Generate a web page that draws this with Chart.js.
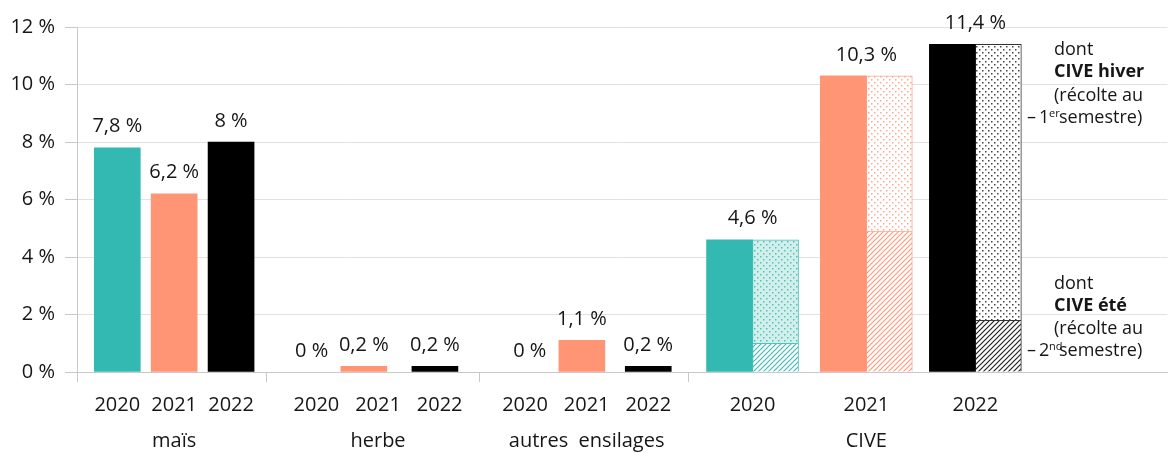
<!DOCTYPE html>
<html lang="fr">
<head>
<meta charset="utf-8">
<script src="https://cdn.jsdelivr.net/npm/chart.js@4.4.1/dist/chart.umd.min.js"></script>
<style>
  html, body { margin: 0; padding: 0; background: #fff; }
</style>
</head>
<body>
<canvas id="myChart" width="1170" height="453"></canvas>
<script>
const years = ['2020', '2021', '2022'];
const groups = ['maïs', 'herbe', 'autres  ensilages', 'CIVE'];
const mais = [7.8, 6.2, 8];
const herbe = [0, 0.2, 0.2];
const autres = [0, 1.1, 0.2];
const cive = [4.6, 10.3, 11.4];
const civeEte = [1.0, 4.9, 1.8];     // dont CIVE été (2nd semestre)
const civeHiver = [3.6, 5.4, 9.6];   // dont CIVE hiver (1er semestre)
const yTicks = [0, 2, 4, 6, 8, 10, 12];

const series = [mais, herbe, autres, cive];

// layout only: the x axis is cut in fine slots so the uneven spacing can be kept
const slotCount = 230;
const barSlots = [[8, 20, 32], [49, 60, 75], [95, 106, 120], [142, 166, 189]];
const labelSlots = [[8, 20, 32], [50, 63, 76], [94, 107, 120], [142, 166, 189]];
const sepSlots = [0, 40, 85, 129];

const yearColors = ['#33b9b2', '#ff9575', '#000000'];
const FONT = '"Open Sans", "Noto Sans", sans-serif';

function dots(bg, fg, size) {
    const c = document.createElement('canvas');
    c.width = 6; c.height = 6;
    const g = c.getContext('2d');
    g.fillStyle = bg;
    g.fillRect(0, 0, 6, 6);
    g.fillStyle = fg;
    g.fillRect(1, 1, size, size);
    g.fillRect(4, 4, size, size);
    return g.createPattern(c, 'repeat');
}

function hatch(fg) {
    const c = document.createElement('canvas');
    c.width = 5; c.height = 5;
    const g = c.getContext('2d');
    g.fillStyle = '#fff';
    g.fillRect(0, 0, 5, 5);
    g.strokeStyle = fg;
    g.lineWidth = 1.2;
    g.beginPath();
    g.moveTo(0, 5); g.lineTo(5, 0);
    g.moveTo(-1, 1); g.lineTo(1, -1);
    g.moveTo(4, 6); g.lineTo(6, 4);
    g.stroke();
    return g.createPattern(c, 'repeat');
}

const hiverFill = [dots('#d3efec', '#4fc2bb', 1.5), dots('#ffffff', '#ffa88e', 1.5), dots('#ffffff', '#444444', 1.5)];
const eteFill = [hatch('#3fbdb6'), hatch('#ff9a7c'), hatch('#222222')];
const detailBorder = ['#4fc2bb', '#ffa88e', '#333333'];

// build the slot arrays from the small arrays above
const labels = new Array(slotCount).fill('');
const solidData = new Array(slotCount).fill(null);
const solidColor = new Array(slotCount).fill('#000');
const eteData = new Array(slotCount).fill(null);
const hiverData = new Array(slotCount).fill(null);
const eteColor = new Array(slotCount).fill('#fff');
const hiverColor = new Array(slotCount).fill('#fff');
const detailColor = new Array(slotCount).fill('#000');

series.forEach(function(vals, g) {
    vals.forEach(function(v, i) {
        const s = barSlots[g][i];
        solidData[s] = v;
        solidColor[s] = v === 0 ? 'rgba(0,0,0,0)' : yearColors[i];
        labels[labelSlots[g][i]] = i === 1 ? [years[i], groups[g]] : [years[i]];
    });
});
civeEte.forEach(function(v, i) {
    const s = barSlots[3][i];
    eteData[s] = v;
    hiverData[s] = civeHiver[i];
    eteColor[s] = eteFill[i];
    hiverColor[s] = hiverFill[i];
    detailColor[s] = detailBorder[i];
});

function fmt(v) {
    return String(v).replace('.', ',') + ' %';
}

const valueLabels = {
    id: 'valueLabels',
    afterDatasetsDraw(chart) {
        const ctx = chart.ctx;
        const x = chart.scales.x, y = chart.scales.y;
        ctx.save();
        ctx.font = '20px ' + FONT;
        ctx.fillStyle = '#161616';
        ctx.textAlign = 'center';
        ctx.textBaseline = 'middle';
        series.forEach(function(vals, g) {
            vals.forEach(function(v, i) {
                ctx.fillText(fmt(v), x.getPixelForValue(barSlots[g][i]), y.getPixelForValue(v) - 21);
            });
        });
        ctx.restore();
    }
};

function drawNote(ctx, x, base, title, num, sup) {
    ctx.textAlign = 'left';
    ctx.textBaseline = 'alphabetic';
    ctx.fillStyle = '#161616';
    ctx.font = '18px ' + FONT;
    ctx.fillText('dont', x, base[0]);
    ctx.font = 'bold 18px ' + FONT;
    ctx.fillText(title, x, base[1]);
    ctx.font = '18px ' + FONT;
    ctx.fillText('(récolte au', x, base[2]);
    ctx.fillText('semestre)', x + 5, base[3]);
    ctx.fillText('–', x - 27, base[3]);
    ctx.fillText(num, x - 15, base[3]);
    ctx.font = '11px ' + FONT;
    ctx.fillText(sup, x - 5, base[3] - 6);
}

const notes = {
    id: 'notes',
    afterDraw(chart) {
        const ctx = chart.ctx;
        ctx.save();
        drawNote(ctx, 1054, [55, 77, 101, 123], 'CIVE hiver', '1', 'er');
        drawNote(ctx, 1054, [289, 311, 334, 356], 'CIVE été', '2', 'nd');
        ctx.restore();
    }
};

const config = {
    type: 'bar',
    data: {
        labels: labels,
        datasets: [{
            label: 'total',
            data: solidData,
            backgroundColor: solidColor,
            stack: 'total',
            borderWidth: 0
        }, {
            label: 'dont CIVE été',
            data: eteData,
            backgroundColor: eteColor,
            borderColor: detailColor,
            borderWidth: 1,
            stack: 'detail'
        }, {
            label: 'dont CIVE hiver',
            data: hiverData,
            backgroundColor: hiverColor,
            borderColor: detailColor,
            borderWidth: 1,
            stack: 'detail'
        }]
    },
    options: {
        responsive: false,
        animation: false,
        devicePixelRatio: 1,
        skipNull: true,
        barThickness: 46,
        layout: { padding: { top: 27, right: 0, left: 0, bottom: 0 } },
        plugins: {
            legend: { display: false },
            tooltip: { enabled: false }
        },
        scales: {
            x: {
                afterFit: function(axis) { axis.height = 81; },
                border: { color: '#c8c8c8' },
                grid: {
                    offset: true,
                    drawOnChartArea: false,
                    tickLength: 10,
                    tickColor: function(c) { return sepSlots.includes(c.index) ? '#c8c8c8' : 'rgba(0,0,0,0)'; },
                    color: function(c) { return sepSlots.includes(c.index) ? '#c8c8c8' : 'rgba(0,0,0,0)'; }
                },
                ticks: {
                    autoSkip: false,
                    maxRotation: 0,
                    padding: 5,
                    color: '#161616',
                    font: { family: FONT, size: 20, lineHeight: 1.8 }
                }
            },
            y: {
                stacked: true,
                min: 0,
                max: 12,
                afterFit: function(axis) { axis.width = 77; },
                afterBuildTicks: function(axis) { axis.ticks = yTicks.map(function(v) { return { value: v }; }); },
                border: { color: '#c8c8c8' },
                grid: { color: '#e1e1e1', tickColor: '#c8c8c8', tickLength: 12 },
                ticks: {
                    padding: 10,
                    color: '#161616',
                    font: { family: FONT, size: 20 },
                    callback: function(v) { return v + ' %'; }
                }
            }
        }
    },
    plugins: [valueLabels, notes]
};

var myChart = new Chart(document.getElementById('myChart'), config);
</script>
</body>
</html>
